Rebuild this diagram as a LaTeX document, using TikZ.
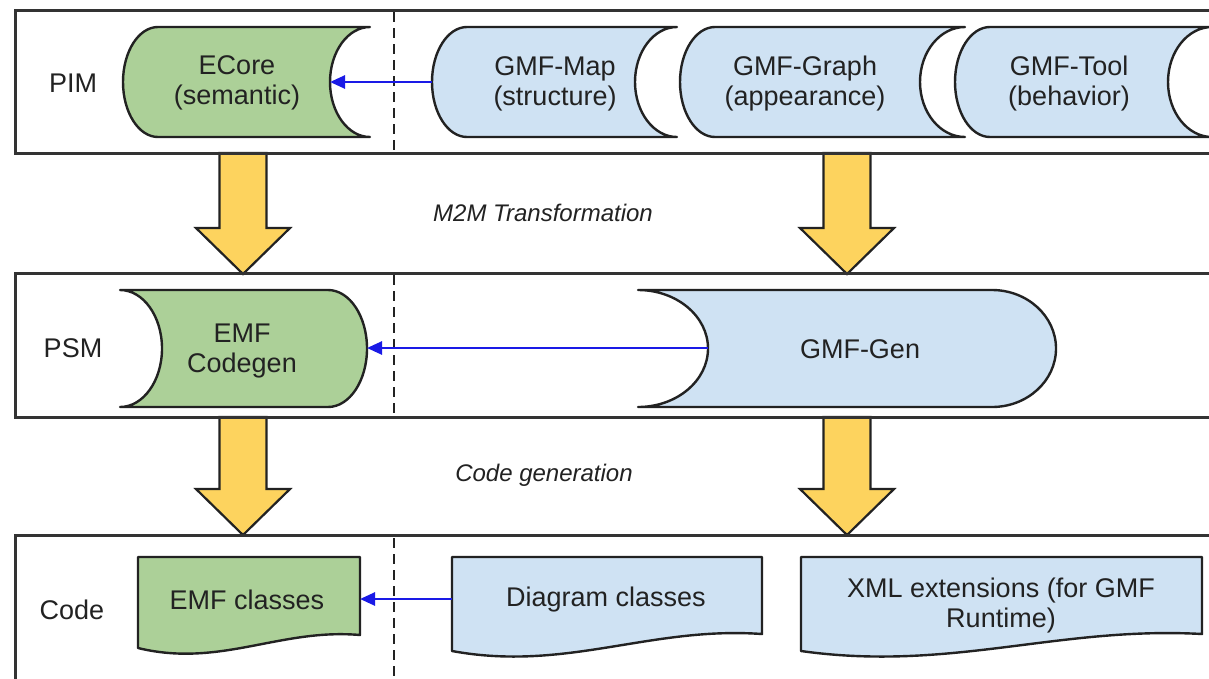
\documentclass[tikz,border=0pt]{standalone}
\usepackage{fontspec}
\setmainfont{Liberation Sans}
\usetikzlibrary{arrows.meta}
\definecolor{mygreen}{HTML}{ACD098}
\definecolor{myblue}{HTML}{CFE2F3}
\definecolor{myyellow}{HTML}{FDD35E}
\definecolor{flowblue}{HTML}{1A1AE6}
\definecolor{ink}{HTML}{222222}
\definecolor{bandgray}{HTML}{333333}
\tikzset{
  band/.style={draw=bandgray, line width=3pt},
  outline/.style={draw=ink, line width=2.4pt, line join=round},
  greenshape/.style={outline, fill=mygreen},
  blueshape/.style={outline, fill=myblue},
  lbl/.style={font=\fontsize{27}{30}\selectfont, text=ink, align=center, inner sep=0pt},
  note/.style={font=\fontsize{24}{28}\selectfont\itshape, text=ink, inner sep=0pt},
  flow/.style={draw=flowblue, line width=2.6pt, -{Triangle[length=15pt,width=13pt]}},
  bigarrow/.style={fill=myyellow, draw=ink, line width=2.2pt, line join=miter},
  divider/.style={draw=ink, line width=2.4pt, dash pattern=on 10pt off 6pt}
}
\begin{document}
\begin{tikzpicture}[x=1pt,y=1pt]
\useasboundingbox (0,0) rectangle (1209,-678);
\clip (0,0) rectangle (1209,-678);
\fill[white] (0,0) rectangle (1209,-678);

% yellow arrows
\path[bigarrow] (219.5,-153) -- (266.5,-153) -- (266.5,-228) -- (290,-228) -- (243,-274) -- (196,-228) -- (219.5,-228) -- cycle;
\path[bigarrow] (823.5,-153) -- (870.5,-153) -- (870.5,-228) -- (894,-228) -- (847,-274) -- (800,-228) -- (823.5,-228) -- cycle;
\path[bigarrow] (219.5,-417) -- (266.5,-417) -- (266.5,-489) -- (290,-489) -- (243,-535) -- (196,-489) -- (219.5,-489) -- cycle;
\path[bigarrow] (823.5,-417) -- (870.5,-417) -- (870.5,-489) -- (894,-489) -- (847,-535) -- (800,-489) -- (823.5,-489) -- cycle;

% bands
\draw[band] (15,-10) rectangle (1230,-153);
\draw[band] (15,-273) rectangle (1230,-417);
\draw[band] (15,-535) rectangle (1230,-700);

% dividers
\draw[divider] (394,-12) -- (394,-151);
\draw[divider] (394,-275) -- (394,-415);
\draw[divider] (394,-538) -- (394,-678);

% row labels
\node[lbl] (pim) at (73,-83) {PIM};
\node[lbl] (psm) at (73,-348) {PSM};
\node[lbl] (code) at (72,-610) {Code};

% top row shapes
\path[greenshape] (158,-27) -- (370,-27) arc[start angle=90,end angle=270,x radius=40pt,y radius=55pt] -- (158,-137) arc[start angle=270,end angle=90,x radius=35pt,y radius=55pt] -- cycle;
\path[blueshape] (467,-27) -- (677,-27) arc[start angle=90,end angle=270,x radius=42pt,y radius=55pt] -- (467,-137) arc[start angle=270,end angle=90,x radius=35pt,y radius=55pt] -- cycle;
\path[blueshape] (715,-27) -- (965,-27) arc[start angle=90,end angle=270,x radius=45pt,y radius=55pt] -- (715,-137) arc[start angle=270,end angle=90,x radius=35pt,y radius=55pt] -- cycle;
\path[blueshape] (990,-27) -- (1212,-27) arc[start angle=90,end angle=270,x radius=44pt,y radius=55pt] -- (990,-137) arc[start angle=270,end angle=90,x radius=35pt,y radius=55pt] -- cycle;
\node[lbl] (ecore) at (237,-83) {ECore\\(semantic)};
\node[lbl] (gmfmap) at (555,-84) {GMF-Map\\(structure)};
\node[lbl] (gmfgraph) at (805,-84) {GMF-Graph\\(appearance)};
\node[lbl] (gmftool) at (1069,-84) {GMF-Tool\\(behavior)};
\coordinate (ecoreIn) at (330,-82);
\coordinate (mapL) at (432,-82);

% middle row shapes
\path[greenshape] (120,-290) -- (328,-290) arc[start angle=90,end angle=-90,x radius=39pt,y radius=58.5pt] -- (120,-407) arc[start angle=-90,end angle=90,x radius=42pt,y radius=58.5pt] -- cycle;
\path[blueshape] (638,-290) -- (992,-290) arc[start angle=90,end angle=-90,x radius=64pt,y radius=58.5pt] -- (638,-407) arc[start angle=-90,end angle=90,x radius=70pt,y radius=58.5pt] -- cycle;
\node[lbl] (emfcodegen) at (242,-351) {EMF\\Codegen};
\node[lbl] (gmfgen) at (860,-349) {GMF-Gen};
\coordinate (codegenR) at (367,-348);
\coordinate (genIn) at (708,-348);

% bottom row documents
\path[greenshape] (138,-557) -- (360,-557) -- (360,-635) .. controls (280,-628) and (220,-668) .. (138,-648) -- cycle;
\path[blueshape] (452,-557) -- (762,-557) -- (762,-634) .. controls (650,-626) and (566,-672) .. (452,-651) -- cycle;
\path[blueshape] (801,-557) -- (1202,-557) -- (1202,-634) .. controls (1058,-626) and (950,-672) .. (801,-651) -- cycle;
\node[lbl] (emfclasses) at (247,-600) {EMF classes};
\node[lbl] (diagclasses) at (606,-600) {Diagram classes};
\node[lbl] (xmlext) at (1001,-606) {XML extensions (for GMF\\Runtime)};
\coordinate (emfR) at (360,-599);
\coordinate (diagL) at (452,-599);

% blue connectors
\draw[flow] (mapL) -- (ecoreIn);
\draw[flow] (genIn) -- (codegenR);
\draw[flow] (diagL) -- (emfR);

% notes
\node[note] (m2m) at (543,-213) {M2M Transformation};
\node[note] (codegen) at (544,-475) {Code generation};
\end{tikzpicture}
\end{document}
